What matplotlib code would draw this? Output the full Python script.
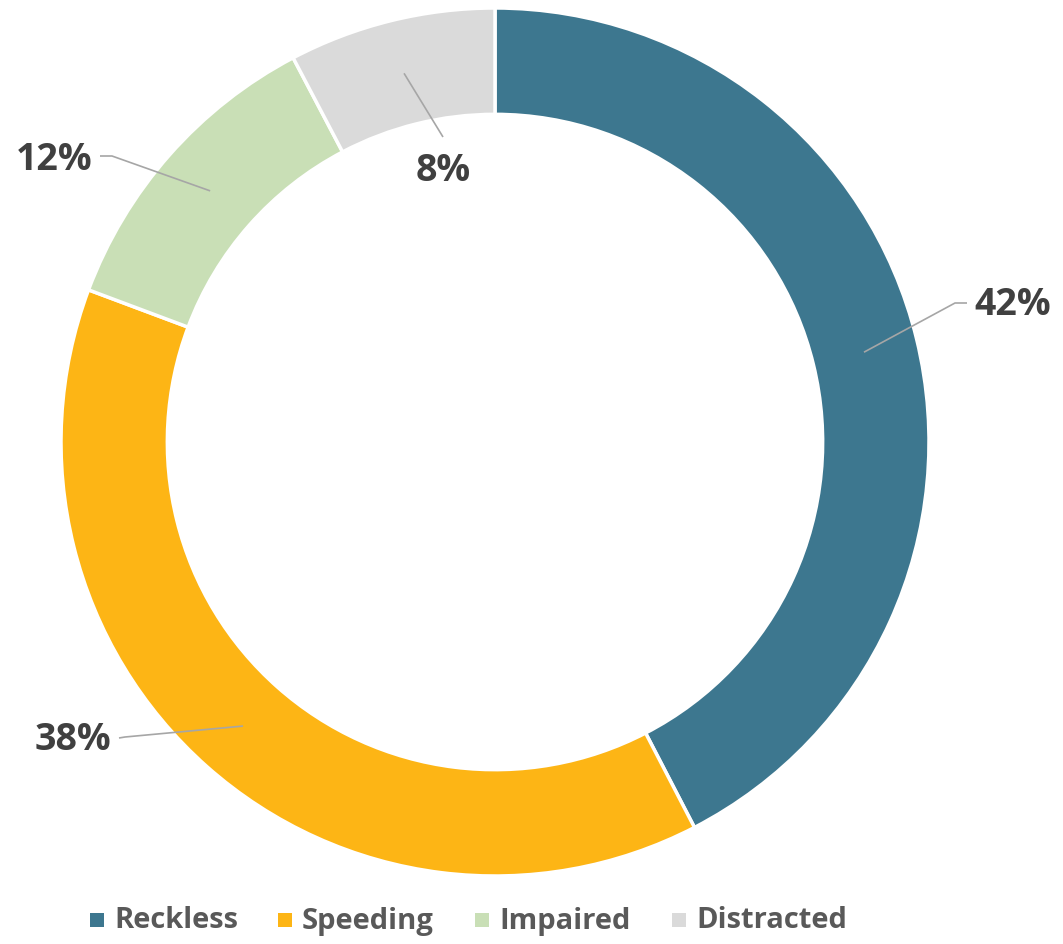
import numpy as np
import matplotlib
matplotlib.use("Agg")
import matplotlib.pyplot as plt

categories = ["Reckless", "Speeding", "Impaired", "Distracted"]
values = [42.4, 38.3, 11.6, 7.7]
labels = ["42%", "38%", "12%", "8%"]
colors = ["#3D778F", "#FDB515", "#C9DFB6", "#DADADA"]

W, H = 1063, 944
fig = plt.figure(figsize=(W / 100, H / 100), dpi=100)
ax = fig.add_axes([0, 0, 1, 1])
ax.set_xlim(0, W)
ax.set_ylim(0, H)
ax.axis("off")

cx, cy = 495, H - 442
R = 434

wedges, _ = ax.pie(values, colors=colors, startangle=90, counterclock=False,
                   radius=R, center=(cx, cy),
                   wedgeprops=dict(width=R * 0.245, edgecolor="white", linewidth=2.5))
ax.set_xlim(0, W)
ax.set_ylim(0, H)
ax.set_aspect("auto")

font = "Open Sans"
txt_color = "#404040"
line_color = "#A6A6A6"

layout = {
    "Reckless": dict(text=(974, 305), ha="left", va="center", path=[(955, 303), (967, 303)]),
    "Speeding": dict(text=(111, 740), ha="right", va="center", path=[(125, 737), (119, 738)]),
    "Impaired": dict(text=(92, 160), ha="right", va="center", path=[(112, 156), (100, 156)]),
    "Distracted": dict(text=(443, 171), ha="center", va="center", path=[(443, 137)]),
}

cum = np.cumsum([0] + values)
total = sum(values)
rmid = R * 0.875
for i, cat in enumerate(categories):
    mid = 90 - (cum[i] + values[i] / 2) / total * 360
    sx = cx + rmid * np.cos(np.radians(mid))
    sy = cy + rmid * np.sin(np.radians(mid))
    L = layout[cat]
    xs = [sx] + [p[0] for p in L["path"]]
    ys = [sy] + [H - p[1] for p in L["path"]]
    ax.plot(xs, ys, color=line_color, lw=1.2, solid_capstyle="butt")
    tx, ty = L["text"]
    ax.text(tx, H - ty, labels[i], ha=L["ha"], va=L["va"], fontsize=27,
            fontweight="bold", color=txt_color, family=font)

leg_y = H - 920
leg_x = [97, 285, 482, 679]
for i, cat in enumerate(categories):
    ax.scatter([leg_x[i]], [leg_y], marker="s", s=100, color=colors[i], linewidths=0)
    ax.text(leg_x[i] + 17, leg_y - 1, cat, ha="left", va="center", fontsize=21,
            fontweight="bold", color="#595959", family=font)

fig.savefig("out.png", dpi=100)
